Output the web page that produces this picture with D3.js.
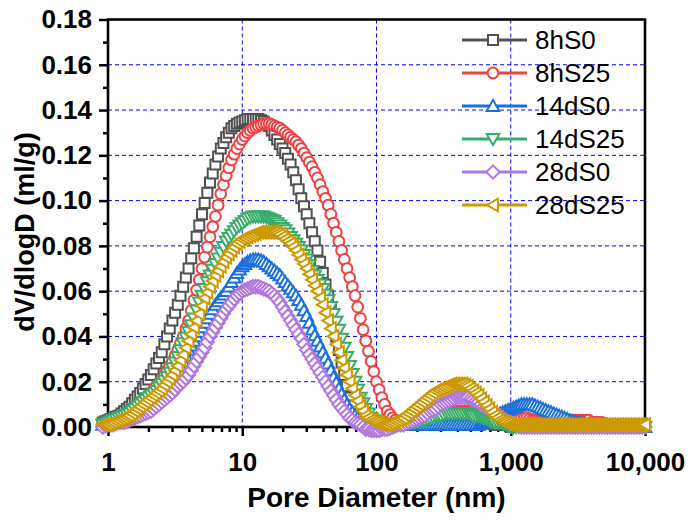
<!DOCTYPE html>
<html>
<head>
<meta charset="utf-8">
<script src="https://cdn.jsdelivr.net/npm/d3@7"></script>
<style>
  html, body { margin: 0; padding: 0; background: #ffffff; }
  svg { display: block; }
</style>
</head>
<body>
<svg id="chart" width="690" height="522"></svg>
<script>
// ---------------- DATA ----------------
// Pore diameter (nm)
const poreDiameter = [
  0.912, 0.955,
  1.000,1.047,1.096,1.148,1.202,1.259,1.318,1.380,1.445,1.514,
  1.585,1.660,1.738,1.820,1.905,1.995,2.089,2.188,2.291,2.399,
  2.512,2.630,2.754,2.884,3.020,3.162,3.311,3.467,3.631,3.802,
  3.981,4.169,4.365,4.571,4.786,5.012,5.248,5.495,5.754,6.026,
  6.310,6.607,6.918,7.244,7.586,7.943,8.318,8.710,9.120,9.550,
  10.00,10.47,10.96,11.48,12.02,12.59,13.18,13.80,14.45,15.14,
  15.85,16.60,17.38,18.20,19.05,19.95,20.89,21.88,22.91,23.99,
  25.12,26.30,27.54,28.84,30.20,31.62,33.11,34.67,36.31,38.02,
  39.81,41.69,43.65,45.71,47.86,50.12,52.48,54.95,57.54,60.26,
  63.10,66.07,69.18,72.44,75.86,79.43,83.18,87.10,91.20,95.50,
  100.0,104.7,109.6,114.8,120.2,125.9,131.8,138.0,144.5,151.4,
  158.5,166.0,173.8,182.0,190.5,199.5,208.9,218.8,229.1,239.9,
  251.2,263.0,275.4,288.4,302.0,316.2,331.1,346.7,363.1,380.2,
  398.1,416.9,436.5,457.1,478.6,501.2,524.8,549.5,575.4,602.6,
  631.0,660.7,691.8,724.4,758.6,794.3,831.8,871.0,912.0,955.0,
  1000,1047,1096,1148,1202,1259,1318,1380,1445,1514,
  1585,1660,1738,1820,1905,1995,2089,2188,2291,2399,
  2512,2630,2754,2884,3020,3162,3311,3467,3631,3802,
  3981,4169,4365,4571,4786,5012,5248,5495,5754,6026,
  6310,6607,6918,7244,7586,7943,8318,8710,9120,9550,
  10000
];

// dV/dlogD (ml/g)
const v8hS0 = [
  .002,.0025,
  .003,.0035,.004,.0045,.005,.006,.007,.008,.009,.0105,
  .012,.0135,.015,.017,.019,.021,.023,.0255,.028,.0305,
  .033,.0365,.040,.0435,.047,.0505,.054,.058,.062,.066,
  .070,.0745,.079,.084,.089,.094,.099,.1035,.108,.112,
  .116,.1195,.123,.1255,.128,.130,.132,.133,.134,.1345,
  .135,.1355,.136,.136,.136,.136,.136,.1355,.135,.134,
  .133,.131,.129,.127,.125,.123,.121,.1185,.116,.1125,
  .109,.105,.101,.0975,.094,.090,.086,.082,.078,.073,
  .068,.063,.058,.052,.046,.040,.034,.0285,.023,.018,
  .013,.0095,.006,.0045,.003,.002,.001,.001,.001,.001,
  .001,.001,.001,.001,.001,.001,.001,.001,.001,.001,
  .001,.0015,.002,.002,.002,.0025,.003,.003,.003,.0035,
  .004,.004,.004,.0045,.005,.005,.005,.005,.005,.005,
  .005,.005,.005,.0045,.004,.004,.004,.0035,.003,.0025,
  .002,.002,.002,.0015,.001,.001,.001,.001,.001,.001,
  .000,.000,.000,.000,.000,.000,.000,.000,.000,.000,
  .000,.000,.000,.000,.000,.000,.000,.000,.000,.000,
  .000,.000,.000,.000,.000,.000,.000,.000,.000,.000,
  .000,.000,.000,.000,.000,.000,.000,.000,.000,.000,
  .000,.000,.000,.000,.000,.000,.000,.000,.000,.000,
  .000
];
const v8hS25 = [
  .001,.0015,
  .002,.0025,.003,.0035,.004,.0045,.005,.006,.007,.008,
  .009,.010,.011,.012,.013,.014,.015,.0165,.018,.0195,
  .021,.023,.025,.027,.029,.0315,.034,.037,.040,.0435,
  .047,.0515,.056,.0605,.065,.070,.075,.0795,.084,.0885,
  .093,.098,.103,.107,.111,.1145,.118,.1205,.123,.125,
  .127,.1285,.130,.131,.132,.1325,.133,.1335,.134,.134,
  .134,.1335,.133,.1325,.132,.131,.130,.129,.128,.127,
  .126,.1245,.123,.121,.119,.117,.115,.1125,.110,.107,
  .104,.101,.098,.094,.090,.086,.082,.078,.074,.070,
  .066,.062,.058,.053,.048,.043,.038,.0335,.029,.0245,
  .020,.0165,.013,.010,.007,.0055,.004,.003,.002,.002,
  .002,.002,.002,.0025,.003,.003,.003,.0035,.004,.004,
  .004,.0045,.005,.0055,.006,.006,.006,.0065,.007,.007,
  .007,.007,.007,.007,.007,.007,.007,.0065,.006,.006,
  .006,.0055,.005,.005,.005,.005,.005,.0045,.004,.004,
  .004,.004,.004,.004,.004,.004,.004,.0035,.003,.003,
  .003,.003,.003,.003,.003,.003,.003,.003,.003,.003,
  .003,.003,.003,.003,.003,.003,.003,.003,.003,.003,
  .002,.002,.002,.002,.002,.0015,.001,.001,.001,.001,
  .001,.001,.001,.001,.001,.001,.001,.001,.001,.001,
  .001
];
const v14dS0 = [
  .001,.0015,
  .002,.002,.002,.0025,.003,.0035,.004,.0045,.005,.0055,
  .006,.007,.008,.009,.010,.011,.012,.013,.014,.015,
  .016,.017,.018,.0195,.021,.023,.025,.027,.029,.0315,
  .034,.036,.038,.040,.042,.044,.046,.048,.050,.052,
  .054,.0555,.057,.0585,.060,.062,.064,.066,.068,.0695,
  .071,.072,.073,.0735,.074,.074,.074,.0735,.073,.072,
  .071,.070,.069,.068,.067,.0655,.064,.0625,.061,.0595,
  .058,.056,.054,.0515,.049,.046,.043,.0405,.038,.0355,
  .033,.0305,.028,.025,.022,.0195,.017,.0145,.012,.010,
  .008,.0065,.005,.004,.003,.0025,.002,.0015,.001,.001,
  .001,.001,.001,.001,.001,.001,.001,.001,.001,.001,
  .001,.001,.001,.001,.001,.001,.001,.001,.001,.001,
  .001,.001,.001,.001,.001,.001,.001,.001,.001,.001,
  .001,.001,.001,.001,.001,.001,.001,.001,.001,.0015,
  .002,.0025,.003,.0035,.004,.005,.006,.0065,.007,.0075,
  .008,.0085,.009,.0095,.010,.010,.010,.010,.010,.0095,
  .009,.0085,.008,.0075,.007,.0065,.006,.0055,.005,.0045,
  .004,.0035,.003,.0025,.002,.002,.002,.0015,.001,.0005,
  .000,.000,.000,.000,.000,.000,.000,.000,.000,.000,
  .000,.000,.000,.000,.000,.000,.000,.000,.000,.000,
  .000
];
const v14dS25 = [
  .001,.0015,
  .002,.0025,.003,.0035,.004,.0045,.005,.0055,.006,.007,
  .008,.009,.010,.011,.012,.013,.014,.015,.016,.0175,
  .019,.0205,.022,.024,.026,.0285,.031,.034,.037,.0395,
  .042,.045,.048,.0515,.055,.058,.061,.064,.067,.0695,
  .072,.0745,.077,.0795,.082,.0835,.085,.0865,.088,.089,
  .090,.091,.092,.0925,.093,.093,.093,.093,.093,.0925,
  .092,.0915,.091,.090,.089,.088,.087,.0855,.084,.0825,
  .081,.0795,.078,.076,.074,.0715,.069,.067,.065,.063,
  .061,.0585,.056,.053,.050,.0465,.043,.039,.035,.031,
  .027,.0235,.020,.0165,.013,.0105,.008,.006,.004,.003,
  .002,.0015,.001,.001,.001,.001,.001,.001,.001,.001,
  .001,.0015,.002,.002,.002,.0025,.003,.003,.003,.0035,
  .004,.0045,.005,.005,.005,.0055,.006,.006,.006,.006,
  .006,.006,.006,.006,.006,.0055,.005,.005,.005,.0045,
  .004,.0035,.003,.0025,.002,.002,.002,.0015,.001,.0005,
  .000,.000,.000,.000,.000,.000,.000,.000,.000,.000,
  .000,.000,.000,.000,.000,.000,.000,.000,.000,.000,
  .000,.000,.000,.000,.000,.000,.000,.000,.000,.000,
  .000,.000,.000,.000,.000,.000,.000,.000,.000,.000,
  .000,.000,.000,.000,.000,.000,.000,.000,.000,.000,
  .000
];
const v28dS0 = [
  .000,.0005,
  .001,.001,.001,.0015,.002,.002,.002,.0025,.003,.0035,
  .004,.0045,.005,.0055,.006,.0065,.007,.008,.009,.010,
  .011,.012,.013,.014,.015,.0165,.018,.019,.020,.0215,
  .023,.025,.027,.029,.031,.033,.035,.0375,.040,.042,
  .044,.046,.048,.050,.052,.0535,.055,.0565,.058,.059,
  .060,.0605,.061,.0615,.062,.062,.062,.0615,.061,.0605,
  .060,.059,.058,.0565,.055,.053,.051,.049,.047,.045,
  .043,.041,.039,.0365,.034,.032,.030,.028,.026,.024,
  .022,.020,.018,.016,.014,.012,.010,.0085,.007,.0055,
  .004,.003,.002,.0015,.001,.000,-.001,-.001,-.0015,-.0015,
  -.0015,-.0015,-.001,-.001,-.001,-.0005,.000,.0005,.001,.001,
  .001,.0015,.002,.0025,.003,.0035,.004,.0045,.005,.006,
  .007,.0075,.008,.009,.010,.0105,.011,.0115,.012,.0125,
  .013,.013,.013,.013,.013,.0125,.012,.0115,.011,.010,
  .009,.0085,.008,.007,.006,.0055,.005,.004,.003,.0025,
  .002,.0015,.001,.0005,.000,.000,.000,.000,.000,.000,
  .000,.000,.000,.000,.000,.000,.000,.000,.000,.000,
  .000,.000,.000,.000,.000,.000,.000,.000,.000,.000,
  .000,.000,.000,.000,.000,.000,.000,.000,.000,.000,
  .000,.000,.000,.000,.000,.000,.000,.000,.000,.000,
  .000
];
const v28dS25 = [
  .001,.001,
  .001,.0015,.002,.0025,.003,.0035,.004,.0045,.005,.006,
  .007,.008,.009,.010,.011,.012,.013,.014,.015,.016,
  .017,.0185,.020,.0215,.023,.025,.027,.0295,.032,.035,
  .038,.041,.044,.047,.050,.0535,.057,.0595,.062,.0645,
  .067,.069,.071,.073,.075,.0765,.078,.0795,.081,.082,
  .083,.0835,.084,.0845,.085,.0855,.086,.086,.086,.086,
  .086,.086,.086,.0855,.085,.084,.083,.082,.081,.0795,
  .078,.076,.074,.072,.070,.0675,.065,.0625,.060,.057,
  .054,.0505,.047,.0435,.040,.0365,.033,.0295,.026,.023,
  .020,.017,.014,.0115,.009,.007,.005,.004,.003,.0025,
  .002,.0015,.001,.001,.001,.0015,.002,.0025,.003,.0035,
  .004,.005,.006,.007,.008,.009,.010,.011,.012,.013,
  .014,.015,.016,.0165,.017,.0175,.018,.0185,.019,.019,
  .019,.019,.019,.0185,.018,.017,.016,.015,.014,.0125,
  .011,.0095,.008,.0065,.005,.004,.003,.0025,.002,.0015,
  .001,.001,.001,.001,.001,.001,.001,.001,.001,.001,
  .001,.001,.001,.001,.001,.001,.001,.001,.001,.001,
  .001,.001,.001,.001,.001,.001,.001,.001,.001,.001,
  .001,.001,.001,.001,.001,.001,.001,.001,.001,.001,
  .001,.001,.001,.001,.001,.001,.001,.001,.001,.001,
  .001
];

const seriesNames = ["8hS0", "8hS25", "14dS0", "14dS25", "28dS0", "28dS25"];
const seriesValues = [v8hS0, v8hS25, v14dS0, v14dS25, v28dS0, v28dS25];

const yTickValues = [0, 0.02, 0.04, 0.06, 0.08, 0.10, 0.12, 0.14, 0.16, 0.18];
const yMinorValues = [0.01, 0.03, 0.05, 0.07, 0.09, 0.11, 0.13, 0.15, 0.17];
const xTickValues = [1, 10, 100, 1000, 10000];
const xTickLabels = ["1", "10", "100", "1,000", "10,000"];
const xMinorValues = [2,3,4,5,6,7,8,9, 20,30,40,50,60,70,80,90, 200,300,400,500,600,700,800,900, 2000,3000,4000,5000,6000,7000,8000,9000];
const xGridValues = [10, 100, 1000];
const yGridValues = [0.02, 0.04, 0.06, 0.08, 0.10, 0.12, 0.14, 0.16];

// ---------------- STYLE ----------------
const colors = ["#515151", "#F14040", "#1A6FDF", "#37AD6B", "#B177DE", "#CC9900"];
const shapes = ["square", "circle", "triUp", "triDown", "diamond", "triLeft"];
const markerPath = {
  square:  "M-5,-5H5V5H-5Z",
  circle:  "M5.4,0A5.4,5.4 0 1,1 -5.4,0A5.4,5.4 0 1,1 5.4,0Z",
  triUp:   "M0,-6L6.3,4.9H-6.3Z",
  triDown: "M0,6L6.3,-4.9H-6.3Z",
  diamond: "M0,-6.6L6.6,0L0,6.6L-6.6,0Z",
  triLeft: "M-6,0L4.9,-6.3V6.3Z"
};

const L = 108, R = 645, T = 19.5, B = 427;
const font = "'Liberation Sans', Arial, Helvetica, sans-serif";

const svg = d3.select("#chart");
const x = d3.scaleLog().domain([1, 10000]).range([L, R]);
const y = d3.scaleLinear().domain([0, 0.18]).range([B, T]);

// grid
const grid = svg.append("g");
grid.selectAll("line.h").data(yGridValues).join("line").attr("class", "h")
  .attr("x1", L).attr("x2", R).attr("y1", d => y(d)).attr("y2", d => y(d))
  .attr("stroke", "#0000FF").attr("stroke-width", 1).attr("stroke-dasharray", "4,3");
grid.selectAll("line.v").data(xGridValues).join("line").attr("class", "v")
  .attr("x1", d => x(d)).attr("x2", d => x(d)).attr("y1", T).attr("y2", B)
  .attr("stroke", "#0000FF").attr("stroke-width", 1).attr("stroke-dasharray", "4,3");

// axes
const yAxis = d3.axisLeft(y).tickValues(yTickValues).tickFormat(d3.format(".2f"))
  .tickSizeInner(9).tickSizeOuter(0).tickPadding(7);
const yAxisMinor = d3.axisLeft(y).tickValues(yMinorValues).tickFormat("").tickSizeInner(5).tickSizeOuter(0);
const xAxis = d3.axisBottom(x).tickValues(xTickValues).tickFormat((d, i) => xTickLabels[i])
  .tickSizeInner(9).tickSizeOuter(0).tickPadding(17);
const xAxisMinor = d3.axisBottom(x).tickValues(xMinorValues).tickFormat("").tickSizeInner(5).tickSizeOuter(0);

function styleAxis(g) {
  g.select(".domain").remove();
  g.selectAll(".tick line").attr("stroke", "#000").attr("stroke-width", 2.5);
  g.selectAll(".tick text").attr("fill", "#000").style("font-family", font)
    .style("font-size", "26px").style("font-weight", "bold");
}
svg.append("g").attr("transform", `translate(${L},0)`).call(yAxis).call(styleAxis);
svg.append("g").attr("transform", `translate(${L},0)`).call(yAxisMinor).call(styleAxis);
svg.append("g").attr("transform", `translate(0,${B})`).call(xAxis).call(styleAxis);
svg.append("g").attr("transform", `translate(0,${B})`).call(xAxisMinor).call(styleAxis);

// frame
svg.append("rect").attr("x", L).attr("y", T).attr("width", R - L).attr("height", B - T)
  .attr("fill", "none").attr("stroke", "#000").attr("stroke-width", 2.6);

// axis titles
svg.append("text").attr("x", (L + R) / 2).attr("y", 507).attr("text-anchor", "middle")
  .style("font-family", font).style("font-size", "28px").style("font-weight", "bold")
  .text("Pore Diameter (nm)");
svg.append("text").attr("transform", "translate(34,232) rotate(-90)").attr("text-anchor", "middle")
  .style("font-family", font).style("font-size", "27px").style("font-weight", "bold")
  .text("dV/dlogD (ml/g)");

// series
const line = d3.line().x(d => x(d[0])).y(d => y(d[1]));
seriesValues.forEach((vals, si) => {
  const pts = poreDiameter.map((d, i) => [d, vals[i]]).filter(p => p[1] !== undefined);
  const g = svg.append("g");
  g.append("path").attr("d", line(pts)).attr("fill", "none")
    .attr("stroke", colors[si]).attr("stroke-width", 2);
  g.selectAll("path.m").data(pts).join("path").attr("class", "m")
    .attr("d", markerPath[shapes[si]])
    .attr("transform", d => `translate(${x(d[0])},${y(d[1])})`)
    .attr("fill", "#fff").attr("stroke", colors[si]).attr("stroke-width", 2);
});

// legend
const lg = svg.append("g");
seriesNames.forEach((name, i) => {
  const cy = 40 + 33 * i;
  lg.append("line").attr("x1", 462).attr("x2", 527).attr("y1", cy).attr("y2", cy)
    .attr("stroke", colors[i]).attr("stroke-width", 3);
  lg.append("path").attr("d", markerPath[shapes[i]]).attr("transform", `translate(493,${cy})`)
    .attr("fill", "#fff").attr("stroke", colors[i]).attr("stroke-width", 2);
  lg.append("text").attr("x", 535).attr("y", cy).attr("dy", "0.35em")
    .style("font-family", font).style("font-size", "26px").attr("fill", "#000").text(name);
});
</script>
</body>
</html>
